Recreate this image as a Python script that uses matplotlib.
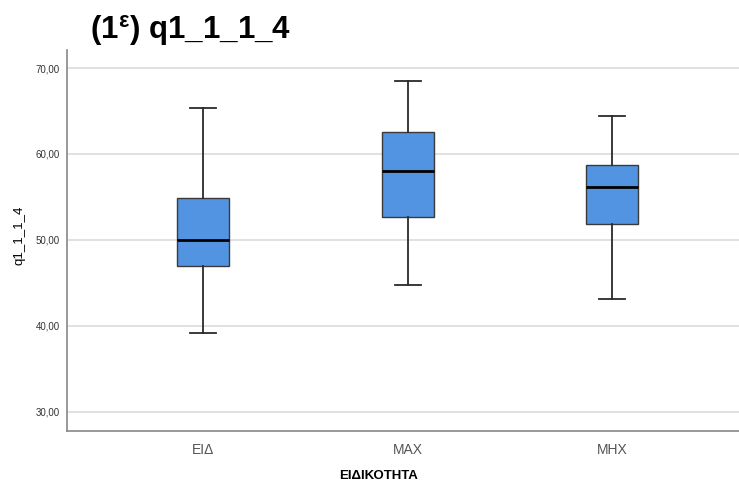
import matplotlib
matplotlib.use('Agg')
import matplotlib.pyplot as plt

# box plot summary values
groups = ['ΕΙΔ', 'ΜΑΧ', 'ΜΗΧ']
whislo = [39.1, 44.8, 43.1]
q1 = [47.0, 52.7, 51.8]
med = [50.0, 58.0, 56.1]
q3 = [54.9, 62.6, 58.7]
whishi = [65.3, 68.5, 64.4]
yticks = [30, 40, 50, 60, 70]

plt.rcParams['font.family'] = ['Liberation Sans', 'DejaVu Sans']
plt.rcParams['mathtext.fontset'] = 'custom'
plt.rcParams['mathtext.rm'] = 'Liberation Sans:bold'
plt.rcParams['mathtext.it'] = 'Liberation Sans:bold'
plt.rcParams['mathtext.bf'] = 'Liberation Sans:bold'

fig = plt.figure(figsize=(7.39, 4.83), dpi=100)
ax = fig.add_axes([67/739, 1-431/483, 1-67/739, (431-50)/483])

stats = []
for i in range(len(groups)):
    stats.append({'whislo': whislo[i], 'q1': q1[i], 'med': med[i],
                  'q3': q3[i], 'whishi': whishi[i], 'fliers': [], 'label': groups[i]})

ax.bxp(stats, positions=[1, 2, 3], widths=0.254, capwidths=0.127,
       patch_artist=True, showfliers=False,
       boxprops=dict(facecolor='#5294e2', edgecolor='#3a3a3a', linewidth=1.0),
       medianprops=dict(color='black', linewidth=2.0),
       whiskerprops=dict(color='#2a2a2a', linewidth=1.3),
       capprops=dict(color='#2a2a2a', linewidth=1.3), zorder=3)

ax.set_xlim(0.335, 3.62)
ax.set_ylim(27.75, 72.1)
ax.set_yticks(yticks)
ax.set_yticklabels(['%d,00' % v for v in yticks], fontsize=7, color='#333333')
ax.set_xticks([1, 2, 3])
ax.set_xticklabels(groups, fontsize=10, color='#555555')
ax.tick_params(axis='both', length=0)
ax.tick_params(axis='y', pad=5)
ax.tick_params(axis='x', pad=9)
ax.yaxis.grid(True, color='#d9d9d9', linewidth=1.1, zorder=0)
ax.set_axisbelow(True)

for s in ['top', 'right']:
    ax.spines[s].set_visible(False)
for s in ['left', 'bottom']:
    ax.spines[s].set_color('#888888')
    ax.spines[s].set_linewidth(1.2)

ax.set_xlabel('ΕΙΔΙΚΟΤΗΤΑ', fontsize=9.5, fontweight='bold')
ax.xaxis.set_label_coords((379-67)/672, -(470-431)/381)
ax.set_ylabel('q1_1_1_4', fontsize=9.5)
ax.yaxis.set_label_coords(-(67-26)/672, (431-235)/381)

fig.text(90/739, 1-31/483, r'(1$^{\mathrm{ε}}$) q1_1_1_4', fontsize=22.5, fontweight='bold',
         va='center', ha='left')

fig.savefig('out.png', dpi=100)
